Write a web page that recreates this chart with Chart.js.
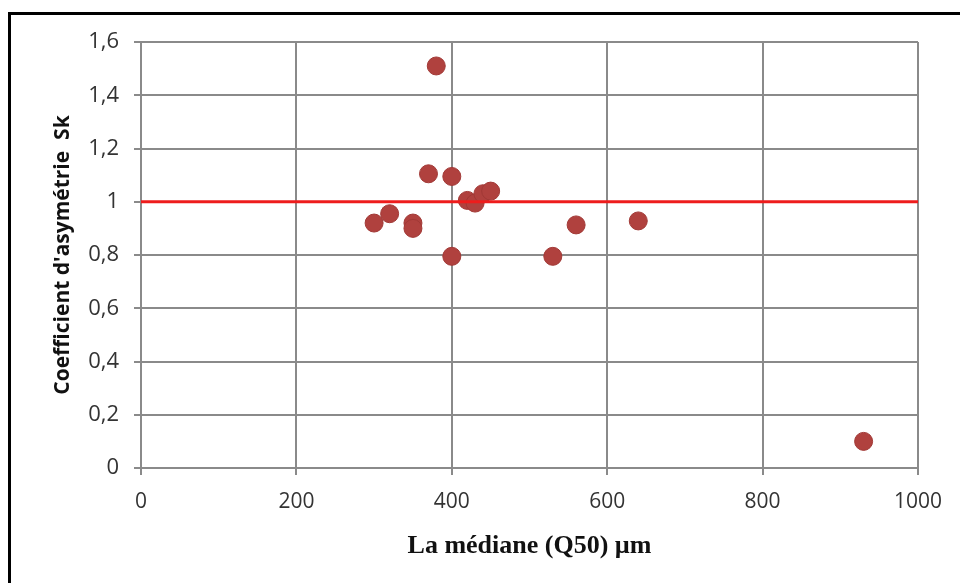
<!DOCTYPE html>
<html>
<head>
<meta charset="utf-8">
<script src="https://cdn.jsdelivr.net/npm/chart.js@4"></script>
<style>
  html, body { margin: 0; padding: 0; background: #fff; }
  #frame { position: absolute; left: 8px; top: 12px; width: 1100px; height: 1100px;
           border-left: 3px solid #000; border-top: 3px solid #000; }
  #wrap { position: absolute; left: 0; top: 0; width: 960px; height: 583px; }
</style>
</head>
<body>
<div id="frame"></div>
<div id="wrap"><canvas id="c" width="960" height="583"></canvas></div>
<script>
// Data
const medianQ50 = [380, 370, 400, 420, 430, 440, 450, 300, 320, 350, 350, 400, 530, 560, 640, 930];
const skewnessSk = [1.51, 1.105, 1.095, 1.005, 0.995, 1.03, 1.04, 0.92, 0.955, 0.92, 0.90, 0.795, 0.795, 0.913, 0.928, 0.10];
const referenceX = [0, 1000];
const referenceY = [1, 1];
const xTicks = [0, 200, 400, 600, 800, 1000];
const yTicks = [0, 0.2, 0.4, 0.6, 0.8, 1, 1.2, 1.4, 1.6];

const points = medianQ50.map((x, i) => ({ x: x, y: skewnessSk[i] }));
const refLine = referenceX.map((x, i) => ({ x: x, y: referenceY[i] }));

const gridColor = '#8a8a8a';

new Chart(document.getElementById('c'), {
  type: 'scatter',
  data: {
    datasets: [
      {
        type: 'line',
        data: refLine,
        borderColor: '#ee1c1c',
        borderWidth: 3,
        pointRadius: 0,
        fill: false,
        order: 0
      },
      {
        data: points,
        backgroundColor: '#b0413e',
        borderColor: '#a13936',
        borderWidth: 1,
        pointRadius: 9,
        pointHoverRadius: 9,
        order: 1
      }
    ]
  },
  options: {
    responsive: false,
    animation: false,
    events: [],
    layout: { padding: { left: 0, right: 42, top: 42, bottom: 0 } },
    plugins: { legend: { display: false }, tooltip: { enabled: false } },
    scales: {
      x: {
        type: 'linear',
        min: 0, max: 1000,
        afterBuildTicks: (s) => { s.ticks = xTicks.map(v => ({ value: v })); },
        afterFit: (s) => { s.height = 115; },
        grid: { color: gridColor, lineWidth: 2, tickLength: 7, tickColor: gridColor },
        border: { color: gridColor, width: 2 },
        ticks: {
          padding: 14,
          color: '#333',
          font: { family: 'Open Sans', size: 21 },
          maxRotation: 0,
          callback: (v) => String(v)
        },
        title: {
          display: true,
          text: 'La médiane (Q50) µm',
          color: '#111',
          font: { family: 'Liberation Serif', size: 26, weight: 'bold' },
          padding: { top: 0, bottom: 21 }
        }
      },
      y: {
        type: 'linear',
        min: 0, max: 1.6,
        afterBuildTicks: (s) => { s.ticks = yTicks.map(v => ({ value: v })); },
        afterFit: (s) => { s.width = 141; },
        grid: { color: gridColor, lineWidth: 2, tickLength: 7, tickColor: gridColor },
        border: { color: gridColor, width: 2 },
        ticks: {
          padding: 15,
          color: '#333',
          font: { family: 'Open Sans', size: 22 },
          callback: (v) => String(Math.round(v * 10) / 10).replace('.', ',')
        },
        title: {
          display: true,
          text: "Coefficient d'asymétrie  Sk",
          color: '#111',
          font: { family: 'Open Sans', size: 21, weight: 'bold' },
          padding: { top: 50, bottom: 0 }
        }
      }
    }
  }
});
</script>
</body>
</html>
